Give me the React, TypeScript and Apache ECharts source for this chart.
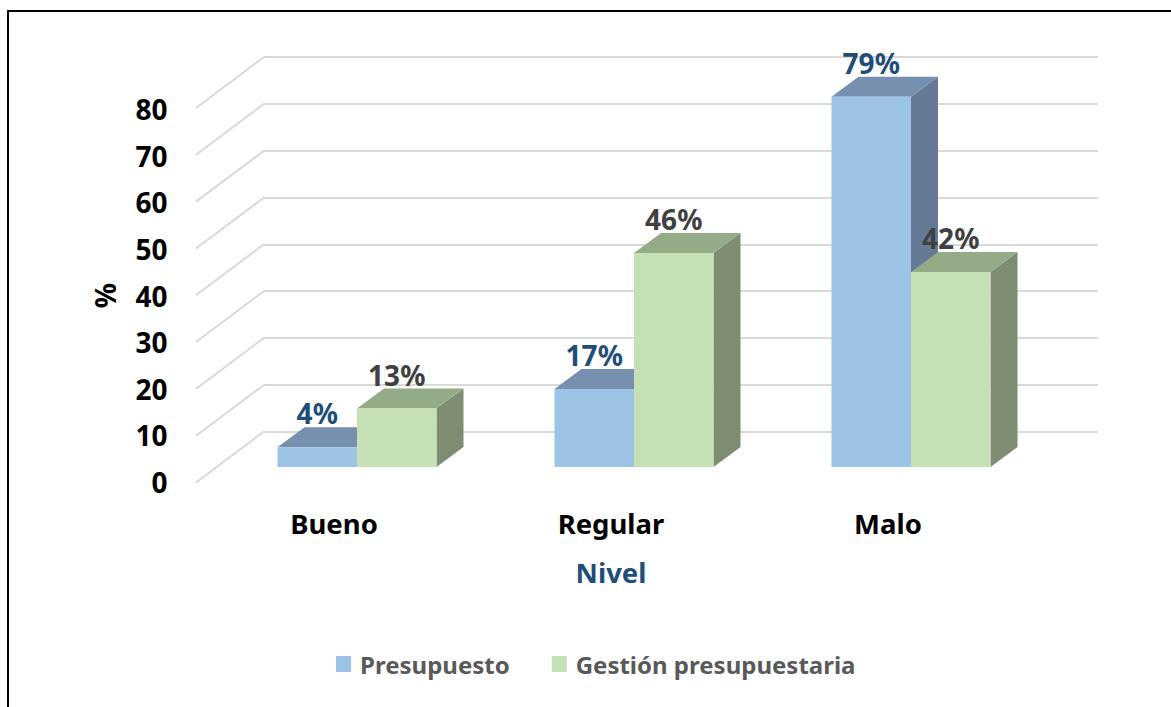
import React, { useEffect, useRef } from "react";
import * as echarts from "echarts";

const categories = ["Bueno", "Regular", "Malo"];
const presupuesto = [4.2, 16.7, 79.2];
const gestion = [12.5, 45.8, 41.7];
const wallTicks = [0, 10, 20, 30, 40, 50, 60, 70, 80];

const FONT = '"Noto Sans", sans-serif';
const BAR_W = 79.5;
const DX = 27;
const DY = 20;

function barRenderer(side: -1 | 1, front: string, top: string, right: string, labelColor: string) {
  return (params: any, api: any) => {
    const i = api.value(0);
    const v = api.value(1);
    const t = api.coord([i, v]);
    const b = api.coord([i, 0]);
    const x0 = side < 0 ? t[0] - BAR_W : t[0];
    const x1 = x0 + BAR_W;
    return {
      type: "group",
      children: [
        { type: "polygon", shape: { points: [[x1, t[1]], [x1 + DX, t[1] - DY], [x1 + DX, b[1] - DY], [x1, b[1]]] }, style: { fill: right } },
        { type: "polygon", shape: { points: [[x0, t[1]], [x0 + DX, t[1] - DY], [x1 + DX, t[1] - DY], [x1, t[1]]] }, style: { fill: top } },
        { type: "rect", shape: { x: x0, y: t[1], width: BAR_W, height: b[1] - t[1] }, style: { fill: front } },
        {
          type: "text",
          style: {
            text: `${Math.round(v)}%`,
            x: (x0 + x1) / 2,
            y: t[1] - 34,
            fill: labelColor,
            font: `bold 28px ${FONT}`,
            align: "center",
            verticalAlign: "middle",
          },
        },
      ],
    };
  };
}

export default function App() {
  const ref = useRef<HTMLDivElement>(null);
  useEffect(() => {
    document.body.style.margin = "0";
    document.body.style.overflow = "hidden";
    const chart = echarts.init(ref.current!, undefined, { renderer: "svg" });
    chart.setOption({
      animation: false,
      backgroundColor: "#ffffff",
      graphic: [
        {
          type: "rect",
          silent: true,
          shape: { x: 8, y: 11, width: 1400, height: 900 },
          style: { fill: "none", stroke: "#000000", lineWidth: 2 },
        },
      ],
      legend: {
        left: 331,
        top: 647,
        itemWidth: 15,
        itemHeight: 16,
        itemGap: 42,
        data: [
          { name: "Presupuesto", icon: "rect" },
          { name: "Gestión presupuestaria", icon: "rect" },
        ],
        textStyle: { fontFamily: FONT, fontWeight: "bold", fontSize: 24, color: "#595959", padding: [0, 0, 0, 4] },
      },
      grid: [
        { left: 264, top: 57, width: 834, height: 374.5 },
        { left: 195.5, top: 109, width: 831, height: 373 },
        { left: 218.5, top: 93, width: 831, height: 374 },
      ],
      xAxis: [
        { gridIndex: 0, type: "value", min: 0, max: 1, show: false },
        {
          gridIndex: 1,
          type: "category",
          data: categories,
          axisLine: { show: false },
          axisTick: { show: false },
          axisLabel: { margin: 27, fontFamily: FONT, fontWeight: "bold", fontSize: 27.5, color: "#000000" },
          name: "Nivel",
          nameLocation: "middle",
          nameGap: 76,
          nameTextStyle: { fontFamily: FONT, fontWeight: "bold", fontSize: 27.5, color: "#1F4E79" },
        },
        { gridIndex: 2, type: "category", data: categories, show: false },
      ],
      yAxis: [
        {
          gridIndex: 0,
          type: "value",
          min: 0,
          max: 80,
          interval: 10,
          axisLine: { show: false },
          axisTick: { show: false },
          axisLabel: { show: false },
          splitLine: { show: true, lineStyle: { color: "#D9D9D9", width: 2 } },
        },
        {
          gridIndex: 1,
          type: "value",
          min: 0,
          max: 80,
          interval: 10,
          axisLine: { show: false },
          axisTick: { show: false },
          splitLine: { show: false },
          axisLabel: { margin: 28, fontFamily: FONT, fontWeight: "bold", fontSize: 28, color: "#000000" },
          name: "%",
          nameLocation: "middle",
          nameRotate: 90,
          nameGap: 77,
          nameTextStyle: { fontFamily: FONT, fontWeight: "bold", fontSize: 28, color: "#000000" },
        },
        { gridIndex: 2, type: "value", min: 0, max: 80, interval: 10, show: false },
      ],
      series: [
        {
          type: "custom",
          name: "walls",
          xAxisIndex: 0,
          yAxisIndex: 0,
          silent: true,
          clip: false,
          z: 1,
          data: wallTicks.map((v) => [0, v]),
          encode: { x: 0, y: 1 },
          renderItem: (params: any, api: any) => {
            const p = api.coord([0, api.value(1)]);
            return {
              type: "line",
              shape: { x1: p[0], y1: p[1], x2: p[0] - 68, y2: p[1] + 51 },
              style: { stroke: "#D9D9D9", lineWidth: 2 },
            };
          },
        },
        {
          type: "custom",
          name: "Presupuesto",
          xAxisIndex: 2,
          yAxisIndex: 2,
          clip: false,
          z: 2,
          itemStyle: { color: "#9DC3E6" },
          data: presupuesto.map((v, i) => [i, v]),
          encode: { x: 0, y: 1 },
          renderItem: barRenderer(-1, "#9DC3E6", "#7890B0", "#647A96", "#1F4E79"),
        },
        {
          type: "custom",
          name: "Gestión presupuestaria",
          xAxisIndex: 2,
          yAxisIndex: 2,
          clip: false,
          z: 3,
          itemStyle: { color: "#C5E0B4" },
          data: gestion.map((v, i) => [i, v]),
          encode: { x: 0, y: 1 },
          renderItem: barRenderer(1, "#C5E0B4", "#93AC87", "#7E8C72", "#404040"),
        },
      ],
    });
    return () => chart.dispose();
  }, []);
  return <div ref={ref} style={{ width: 1171, height: 707 }} />;
}
